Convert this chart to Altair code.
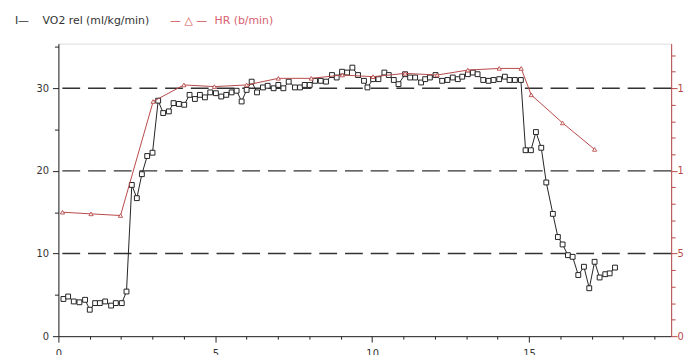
import altair as alt
import pandas as pd

# ---- data ----
vo2_time = [0.16, 0.31, 0.49, 0.67, 0.85, 1.00, 1.17, 1.32, 1.49, 1.68, 1.83, 2.02, 2.17,
            2.34, 2.50, 2.66, 2.83, 3.00, 3.18, 3.34, 3.52, 3.67, 3.84, 4.01, 4.18, 4.35,
            4.51, 4.67, 4.84, 5.02, 5.19, 5.35, 5.52, 5.68, 5.84, 6.00, 6.16, 6.33, 6.52,
            6.67, 6.86, 7.01, 7.17, 7.34, 7.54, 7.70, 7.85, 8.01, 8.18, 8.36, 8.53, 8.72,
            8.87, 9.04, 9.20, 9.37, 9.55, 9.74, 9.85, 10.03, 10.20, 10.39, 10.53, 10.69,
            10.84, 11.05, 11.21, 11.37, 11.56, 11.69, 11.84, 12.02, 12.23, 12.40, 12.57,
            12.73, 12.87, 13.05, 13.21, 13.36, 13.54, 13.71, 13.87, 14.05, 14.23, 14.38,
            14.55, 14.74, 14.89, 15.06, 15.22, 15.39, 15.55, 15.76, 15.92, 16.07, 16.24,
            16.39, 16.57, 16.75, 16.92, 17.09, 17.25, 17.43, 17.57, 17.74]
vo2_value = [4.5, 4.8, 4.2, 4.1, 4.4, 3.2, 4.0, 4.0, 4.2, 3.7, 4.0, 4.0, 5.4,
             18.3, 16.7, 19.6, 21.8, 22.2, 28.5, 27.0, 27.2, 28.2, 28.1, 28.0, 29.2, 28.7,
             29.2, 28.9, 29.5, 29.4, 29.0, 29.2, 29.5, 29.7, 28.4, 29.8, 30.8, 29.5, 30.1,
             30.3, 30.0, 30.4, 30.0, 30.8, 30.1, 30.1, 30.4, 30.4, 30.9, 30.9, 30.8, 31.6,
             31.3, 32.0, 31.9, 32.5, 31.6, 30.9, 30.1, 31.1, 31.1, 31.9, 31.6, 31.0,
             30.5, 31.7, 31.3, 31.3, 30.7, 31.1, 31.3, 31.6, 30.9, 31.0, 31.3,
             31.1, 31.4, 31.7, 31.9, 31.7, 31.0, 30.9, 31.0, 31.1, 31.4, 31.0,
             31.0, 31.0, 22.5, 22.5, 24.7, 22.8, 18.6, 14.8, 12.0, 11.1, 9.8,
             9.6, 7.4, 8.4, 5.8, 9.0, 7.1, 7.5, 7.6, 8.3]

hr_time = [0.13, 1.04, 1.98, 3.02, 4.00, 4.97, 6.00, 7.01, 8.06, 9.05, 10.03, 11.05,
           12.07, 13.05, 14.05, 14.75, 15.07, 16.07, 17.09]
hr_value = [75, 74, 73, 142, 152, 151, 152, 156, 156, 158, 157, 159,
            158, 161, 162, 162, 146, 129, 113]

grid_levels = [10, 20, 30]
x_ticks = list(range(0, 20))
y_ticks = [0, 5, 10, 15, 20, 25, 30, 35]
hr_ticks = list(range(0, 180, 10))

legend_parts = ["I\u2014", "VO2 rel (ml/kg/min)", "\u2014 \u25b3 \u2014", "HR (b/min)"]

X_MAX = 19.53
Y_MAX = 35.4
HR_MAX = Y_MAX * 5

BLACK = "#222222"
RED = "#b84848"
FONT = "DejaVu Sans"

vo2_df = pd.DataFrame({"t": vo2_time, "v": vo2_value})
hr_df = pd.DataFrame({"t": hr_time, "hr": hr_value})
grid_df = pd.DataFrame({"g": grid_levels})

x_scale = alt.Scale(domain=[0, X_MAX], nice=False, zero=False)
y_scale = alt.Scale(domain=[0, Y_MAX], nice=False)
hr_scale = alt.Scale(domain=[0, HR_MAX], nice=False)

x_axis = alt.Axis(
    values=x_ticks, title=None, grid=False,
    labelExpr="datum.value % 5 == 0 ? datum.label : ''",
    domainColor=BLACK, tickColor=BLACK, labelColor="#333333",
    tickSize={"condition": {"test": "datum.value % 5 == 0", "value": 6}, "value": 3},
    labelFont=FONT, labelFontSize=10, labelPadding=7, labelFlush=False,
)
y_axis = alt.Axis(
    values=y_ticks, title=None, grid=False,
    labelExpr="datum.value % 10 == 0 ? datum.label : ''",
    domainColor=BLACK, tickColor=BLACK, labelColor="#333333",
    tickSize={"condition": {"test": "datum.value % 10 == 0", "value": 6}, "value": 4},
    labelFont=FONT, labelFontSize=10, labelPadding=4, labelFlush=False,
)
hr_axis = alt.Axis(
    values=hr_ticks, title=None, grid=False, orient="right",
    labelExpr="datum.value % 50 == 0 ? datum.label : ''",
    domainColor=RED, tickColor=RED, labelColor=RED,
    tickSize={"condition": {"test": "datum.value % 50 == 0", "value": 6}, "value": 4},
    labelFont=FONT, labelFontSize=10, labelPadding=0, labelFlush=False,
)

grid = alt.Chart(grid_df).mark_rule(
    color="#333333", strokeWidth=1.4, strokeDash=[18, 8]
).encode(
    y=alt.Y("g:Q", scale=y_scale, axis=y_axis)
)

vo2 = alt.Chart(vo2_df).mark_line(
    color=BLACK, strokeWidth=1,
    point=alt.OverlayMarkDef(shape="square", size=24, filled=True, fill="white",
                             stroke=BLACK, strokeWidth=1),
).encode(
    x=alt.X("t:Q", scale=x_scale, axis=x_axis),
    y=alt.Y("v:Q", scale=y_scale, axis=y_axis),
)

hr = alt.Chart(hr_df).mark_line(
    color=RED, strokeWidth=1,
    point=alt.OverlayMarkDef(shape="triangle-up", size=18, filled=True, fill="white",
                             stroke=RED, strokeWidth=0.9),
).encode(
    x=alt.X("t:Q", scale=x_scale, axis=x_axis),
    y=alt.Y("hr:Q", scale=hr_scale, axis=hr_axis),
)

one = pd.DataFrame({"k": [0]})
legend_x = [-44, -16, 113, 158]
legend_c = ["#333333", "#333333", "#d05050", "#d86070"]
legend_layers = []
for txt, xx, cc in zip(legend_parts, legend_x, legend_c):
    legend_layers.append(
        alt.Chart(one).mark_text(
            text=txt, align="left", baseline="middle", font=FONT, fontSize=11,
            color=cc,
        ).encode(x=alt.value(xx), y=alt.value(-23))
    )

left = alt.layer(grid, vo2, *legend_layers)
chart = alt.layer(left, hr).resolve_scale(y="independent").properties(
    width=620, height=296,
    autosize=alt.AutoSizeParams(type="none"),
    padding={"left": 51, "top": 34, "right": 13, "bottom": 17},
).configure_view(stroke=None).configure(background="white")

chart.save("out.html", embed_options={"renderer": "svg", "actions": False})
